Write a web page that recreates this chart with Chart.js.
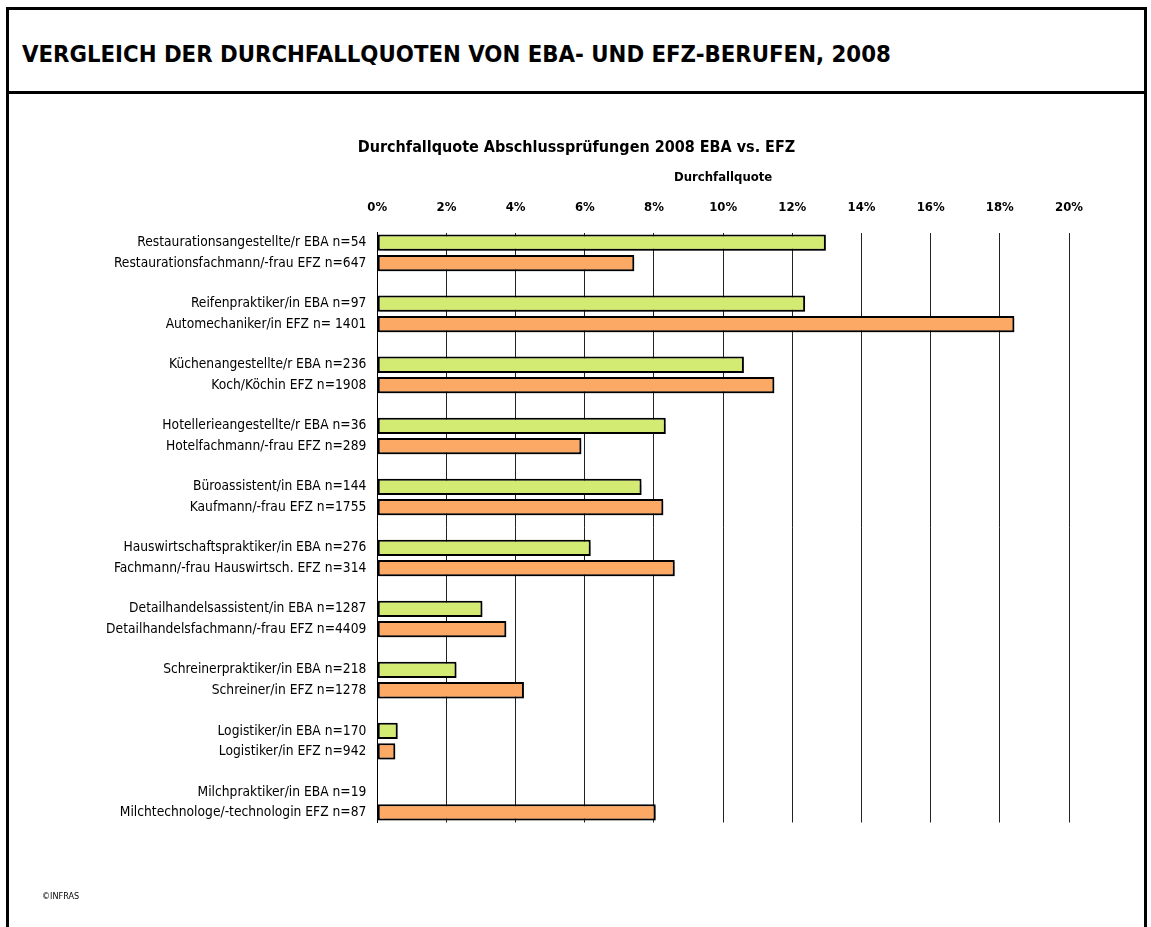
<!DOCTYPE html>
<html><head><meta charset="utf-8">
<script src="https://cdn.jsdelivr.net/npm/chart.js@4.4.1/dist/chart.umd.min.js"></script>
<style>
body{margin:0;background:#fff;width:1151px;height:927px;overflow:hidden;position:relative;font-family:"DejaVu Sans Condensed","DejaVu Sans",sans-serif;}
#frame{position:absolute;left:6px;top:7px;width:1141px;height:1000px;border:3px solid #000;box-sizing:border-box;}
#header{position:absolute;left:0;top:0;right:0;height:81px;border-bottom:3px solid #000;}
#title{position:absolute;left:13px;top:30px;font-weight:bold;font-size:23.7px;white-space:nowrap;}
#wrap{position:absolute;left:10px;top:92px;width:1133px;height:835px;}
#copy{position:absolute;left:42px;top:891px;font-size:9px;}
</style></head>
<body>
<div id="frame"><div id="header"><div id="title">VERGLEICH DER DURCHFALLQUOTEN VON EBA- UND EFZ-BERUFEN, 2008</div></div></div>
<div id="wrap"><canvas id="c"></canvas></div>
<div id="copy">©INFRAS</div>
<script>
const ebaLabels = ['Restaurationsangestellte/r EBA n=54','Reifenpraktiker/in EBA n=97','Küchenangestellte/r EBA n=236','Hotellerieangestellte/r EBA n=36','Büroassistent/in EBA n=144','Hauswirtschaftspraktiker/in EBA n=276','Detailhandelsassistent/in EBA n=1287','Schreinerpraktiker/in EBA n=218','Logistiker/in EBA n=170','Milchpraktiker/in EBA n=19'];
const efzLabels = ['Restaurationsfachmann/-frau EFZ n=647','Automechaniker/in EFZ n= 1401','Koch/Köchin EFZ n=1908','Hotelfachmann/-frau EFZ n=289','Kaufmann/-frau EFZ n=1755','Fachmann/-frau Hauswirtsch. EFZ n=314','Detailhandelsfachmann/-frau EFZ n=4409','Schreiner/in EFZ n=1278','Logistiker/in EFZ n=942','Milchtechnologe/-technologin EFZ n=87'];
const ebaValues = [12.97, 12.37, 10.6, 8.34, 7.64, 6.17, 3.04, 2.29, 0.59, 0];
const efzValues = [7.43, 18.42, 11.48, 5.9, 8.27, 8.6, 3.73, 4.24, 0.52, 8.05];
const xTicks = [0,2,4,6,8,10,12,14,16,18,20];

const FONT = '"DejaVu Sans Condensed","DejaVu Sans",sans-serif';

// build rows: EBA, EFZ, blank
const rows = [], ebaData = [], efzData = [];
ebaLabels.forEach((l, i) => {
  if (i > 0) { rows.push(''); ebaData.push(null); efzData.push(null); }
  rows.push(l); ebaData.push(ebaValues[i]); efzData.push(null);
  rows.push(efzLabels[i]); ebaData.push(null); efzData.push(efzValues[i]);
});

const shadow = {
  id:'shadow',
  beforeDatasetsDraw(c){ const x=c.ctx; x.save(); x.shadowColor='rgba(0,0,0,0.3)'; x.shadowOffsetX=2; x.shadowOffsetY=2; x.shadowBlur=1; },
  afterDatasetsDraw(c){ c.ctx.restore(); }
};

new Chart(document.getElementById('c'), {
  type:'bar',
  data:{ labels: rows, datasets:[
    {label:'EBA', data: ebaData, backgroundColor:'#D3EA73', borderColor:'#000', borderWidth:2, borderSkipped:false},
    {label:'EFZ', data: efzData, backgroundColor:'#FDA966', borderColor:'#000', borderWidth:2, borderSkipped:false}
  ]},
  plugins:[shadow],
  options:{
    indexAxis:'y', responsive:true, maintainAspectRatio:false, animation:false,
    datasets:{bar:{grouped:false, categoryPercentage:1, barPercentage:0.8}},
    layout:{padding:{left:37,right:37,top:0,bottom:104.5}},
    plugins:{
      legend:{display:false}, tooltip:{enabled:false},
      title:{display:true, text:'Durchfallquote Abschlussprüfungen 2008 EBA vs. EFZ', color:'#000',
        font:{family:FONT, size:16, weight:'bold', lineHeight:1.2}, padding:{top:45.8, bottom:13.2}}
    },
    scales:{
      x:{ position:'top', min:0, max:20,
        afterBuildTicks(s){ s.ticks = xTicks.map(v=>({value:v})); },
        afterFit(s){ s.height = 62.3; },
        ticks:{ callback:v=>v+'%', color:'#000', padding:16.7, font:{family:FONT,size:13,weight:'bold'} },
        grid:{ color:'#222', lineWidth:1, drawTicks:false },
        border:{ display:false },
        title:{ display:true, text:'Durchfallquote', color:'#000', padding:{top:0,bottom:0}, font:{family:FONT,size:13,weight:'bold',lineHeight:1.2} }
      },
      y:{ afterFit(s){ s.width = 330.3; },
        ticks:{ color:'#000', padding:11, autoSkip:false, font:{family:FONT,size:13.7} },
        grid:{ display:false, drawTicks:false },
        border:{ display:true, color:'#000', width:1 }
      },
      yRight:{ type:'category', position:'right', labels: rows,
        afterFit(s){ s.width = 37; },
        ticks:{ display:false }, grid:{ display:false, drawTicks:false }, border:{ display:false }
      }
    }
  }
});
</script>
</body></html>
